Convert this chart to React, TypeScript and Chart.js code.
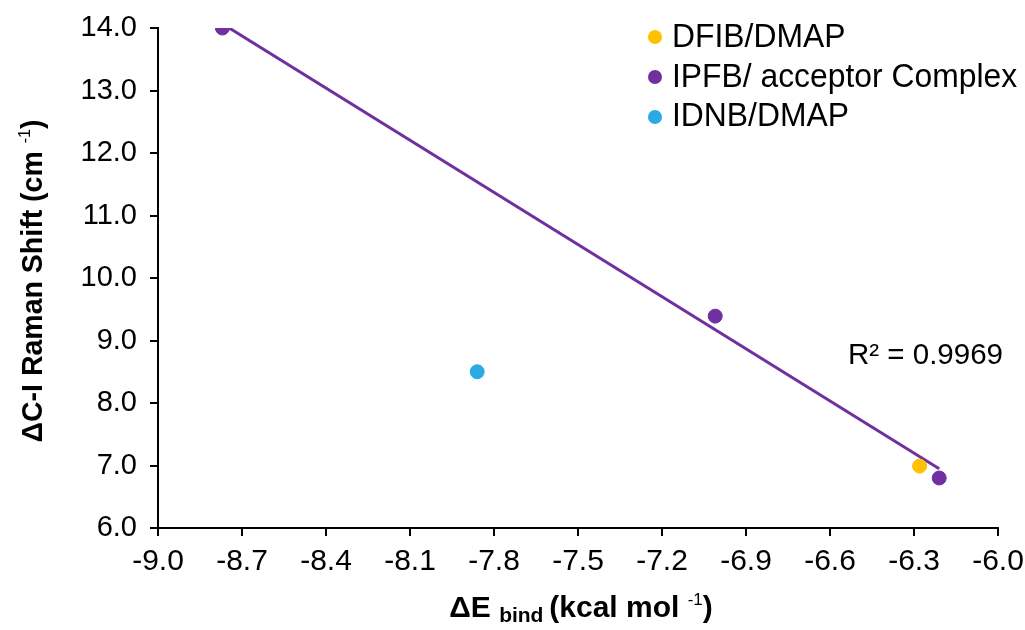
import React, { useEffect, useRef } from "react";
import { Chart, registerables } from "chart.js";

Chart.register(...registerables);

const xTicks = [-9.0, -8.7, -8.4, -8.1, -7.8, -7.5, -7.2, -6.9, -6.6, -6.3, -6.0];
const yTicks = [6.0, 7.0, 8.0, 9.0, 10.0, 11.0, 12.0, 13.0, 14.0];

const dfibX = [-6.28];
const dfibY = [6.99];
const ipfbX = [-8.77, -7.01, -6.21];
const ipfbY = [14.0, 9.39, 6.8];
const idnbX = [-7.86];
const idnbY = [8.5];

const seriesLabels = ["DFIB/DMAP", "IPFB/ acceptor Complex", "IDNB/DMAP"];
const seriesColors = ["#FFC000", "#7030A0", "#29ABE2"];
const r2Text = "R² = 0.9969";

const FONT = "'Liberation Sans', Arial, sans-serif";

function pts(xs: number[], ys: number[]) {
  return xs.map((x, i) => ({ x, y: ys[i] }));
}

function trend(xs: number[], ys: number[]) {
  const n = xs.length;
  const mx = xs.reduce((a, b) => a + b, 0) / n;
  const my = ys.reduce((a, b) => a + b, 0) / n;
  let sxy = 0, sxx = 0;
  for (let i = 0; i < n; i++) {
    sxy += (xs[i] - mx) * (ys[i] - my);
    sxx += (xs[i] - mx) ** 2;
  }
  const m = sxy / sxx;
  const b = my - m * mx;
  const x0 = Math.min(...xs), x1 = Math.max(...xs);
  return [{ x: x0, y: m * x0 + b }, { x: x1, y: m * x1 + b }];
}

type Seg = { t: string; size: number; bold: boolean; dy: number };

function drawSegs(
  ctx: CanvasRenderingContext2D,
  segs: Seg[],
  cx: number,
  cy: number,
  rot: number,
  sx: number
) {
  ctx.save();
  ctx.translate(cx, cy);
  ctx.rotate(rot);
  ctx.scale(sx, 1);
  ctx.fillStyle = "#000";
  ctx.textBaseline = "alphabetic";
  ctx.textAlign = "left";
  let total = 0;
  for (const s of segs) {
    ctx.font = `${s.bold ? "bold " : ""}${s.size}px ${FONT}`;
    total += ctx.measureText(s.t).width;
  }
  let x = -total / 2;
  for (const s of segs) {
    ctx.font = `${s.bold ? "bold " : ""}${s.size}px ${FONT}`;
    ctx.fillText(s.t, x, s.dy);
    x += ctx.measureText(s.t).width;
  }
  ctx.restore();
}

const decor = {
  id: "decor",
  afterDraw(chart: any) {
    const ctx = chart.ctx as CanvasRenderingContext2D;
    const area = chart.chartArea;
    // Y title
    drawSegs(
      ctx,
      [
        { t: "ΔC-I Raman Shift (cm ", size: 30, bold: true, dy: 0 },
        { t: "-1", size: 17, bold: false, dy: -12 },
        { t: ")", size: 30, bold: true, dy: 0 },
      ],
      42,
      281,
      -Math.PI / 2,
      0.95
    );
    // X title
    drawSegs(
      ctx,
      [
        { t: "ΔE ", size: 30, bold: true, dy: 0 },
        { t: "bind ", size: 21, bold: true, dy: 5 },
        { t: "(kcal mol ", size: 30, bold: true, dy: 0 },
        { t: "-1", size: 17, bold: false, dy: -12 },
        { t: ")", size: 30, bold: true, dy: 0 },
      ],
      581,
      617,
      0,
      1
    );
    // R² text
    ctx.save();
    ctx.font = `29.5px ${FONT}`;
    ctx.fillStyle = "#000";
    ctx.textAlign = "right";
    ctx.textBaseline = "alphabetic";
    ctx.fillText(r2Text, area.right + 5, 364);
    ctx.restore();
    // Legend
    const dots = [37, 77, 117];
    const bases = [47, 86.5, 126];
    seriesLabels.forEach((lab, i) => {
      ctx.save();
      ctx.fillStyle = seriesColors[i];
      ctx.beginPath();
      ctx.arc(655, dots[i], 7, 0, Math.PI * 2);
      ctx.fill();
      ctx.translate(672, bases[i]);
      ctx.scale(0.965, 1);
      ctx.font = `33px ${FONT}`;
      ctx.textBaseline = "alphabetic";
      ctx.textAlign = "left";
      ctx.fillStyle = "#000";
      ctx.fillText(lab, 0, 0);
      ctx.restore();
    });
  },
};

export default function App() {
  const ref = useRef<HTMLCanvasElement | null>(null);
  useEffect(() => {
    if (!ref.current) return;
    const chart = new Chart(ref.current, {
      type: "scatter",
      data: {
        datasets: [
          {
            label: "trend",
            data: trend(ipfbX, ipfbY),
            showLine: true,
            borderColor: "#7030A0",
            borderWidth: 3,
            pointRadius: 0,
            order: 10,
          } as any,
          {
            label: seriesLabels[0],
            data: pts(dfibX, dfibY),
            backgroundColor: seriesColors[0],
            borderColor: seriesColors[0],
            pointRadius: 7,
            order: 1,
          },
          {
            label: seriesLabels[1],
            data: pts(ipfbX, ipfbY),
            backgroundColor: seriesColors[1],
            borderColor: seriesColors[1],
            pointRadius: 7,
            order: 1,
          },
          {
            label: seriesLabels[2],
            data: pts(idnbX, idnbY),
            backgroundColor: seriesColors[2],
            borderColor: seriesColors[2],
            pointRadius: 7,
            order: 1,
          },
        ],
      },
      options: {
        animation: false,
        responsive: false,
        layout: { padding: { top: 28, right: 27, left: 0, bottom: 0 } },
        plugins: { legend: { display: false }, tooltip: { enabled: false } },
        scales: {
          x: {
            type: "linear",
            min: -9,
            max: -6,
            afterBuildTicks: (s: any) => {
              s.ticks = xTicks.map((v) => ({ value: v }));
            },
            afterFit: (s: any) => {
              s.height = 102;
              s.paddingLeft = 0;
              s.paddingRight = 0;
            },
            ticks: {
              color: "#000",
              font: { family: FONT, size: 30 },
              padding: 8,
              maxRotation: 0,
              autoSkip: false,
              callback: (v: any) => Number(v).toFixed(1),
            },
            grid: { drawOnChartArea: false, drawTicks: true, tickLength: 8, color: "#000", lineWidth: 2 },
            border: { color: "#000", width: 2 },
          },
          y: {
            type: "linear",
            min: 6,
            max: 14,
            afterBuildTicks: (s: any) => {
              s.ticks = yTicks.map((v) => ({ value: v }));
            },
            afterFit: (s: any) => {
              s.width = 158;
              s.paddingTop = 0;
              s.paddingBottom = 0;
            },
            ticks: {
              color: "#000",
              font: { family: FONT, size: 29 },
              padding: 13,
              autoSkip: false,
              callback: (v: any) => Number(v).toFixed(1),
            },
            grid: { drawOnChartArea: false, drawTicks: true, tickLength: 8, color: "#000", lineWidth: 2 },
            border: { color: "#000", width: 2 },
          },
        },
      },
      plugins: [decor],
    });
    return () => chart.destroy();
  }, []);
  return (
    <div style={{ position: "absolute", left: 0, top: 0, width: 1025, height: 630, background: "#fff" }}>
      <canvas ref={ref} width={1025} height={630} style={{ display: "block" }} />
    </div>
  );
}
